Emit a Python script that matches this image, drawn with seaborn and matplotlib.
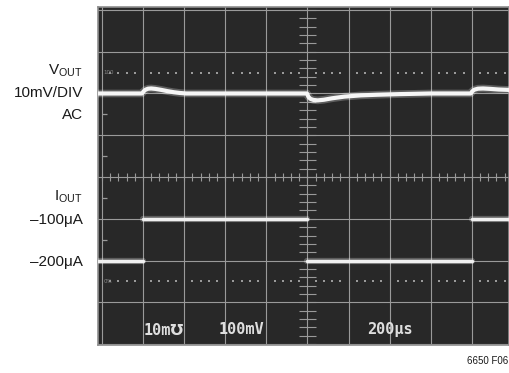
import numpy as np
import pandas as pd
import matplotlib
matplotlib.use("Agg")
import matplotlib.pyplot as plt
import seaborn as sns

# time base 200us/div, VOUT 10mV/div (AC, offset +2 div), IOUT 100uA/div
t_vout = [-20, 195, 203, 212, 225, 240, 260, 290, 320, 350, 380, 410, 600,
          998, 1005, 1015, 1030, 1050, 1080, 1120, 1180, 1260, 1340, 1450, 1600,
          1795, 1802, 1812, 1830, 1855, 1890, 1930, 1985]
v_out_mv = [0, 0, 0.5, 0.9, 1.15, 1.2, 1.1, 0.85, 0.55, 0.3, 0.12, 0, 0,
            0, -0.8, -1.3, -1.55, -1.65, -1.5, -1.15, -0.75, -0.45, -0.3, -0.15, 0,
            0, 0.5, 0.9, 1.15, 1.2, 1.1, 0.95, 0.85]

t_iout = [-20, 200, 1000, 1800, 1985]
i_out_ua = [-200, -100, -200, -100]

vout = pd.DataFrame({"t": t_vout, "div": [2 + v / 10 for v in v_out_mv]})
# current levels as separate segments (scope shows no vertical edges)
seg_rows = []
for k, lvl in enumerate(i_out_ua):
    seg_rows.append({"t": t_iout[k], "div": lvl / 100, "seg": k})
    seg_rows.append({"t": t_iout[k + 1], "div": lvl / 100, "seg": k})
iout = pd.DataFrame(seg_rows)

sns.set_style("dark")
plt.rcParams["font.family"] = ["Liberation Sans", "DejaVu Sans"]

fig = plt.figure(figsize=(5.09, 3.73), dpi=100)
fig.patch.set_facecolor("white")
ax = fig.add_axes([98 / 509, (373 - 345) / 373, (509 - 98) / 509, (345 - 7) / 373])
ax.set_facecolor("#282828")

# graticule
grid_c = "#9a9a9a"
for x in range(0, 2001, 200):
    ax.axvline(x, color=grid_c, lw=0.8, zorder=1)
for y in range(-4, 5):
    ax.axhline(y, color=grid_c, lw=0.8, zorder=1)
minor_x = np.arange(0, 2000, 40)
minor_y = np.arange(-4, 4.01, 0.2)
ax.vlines(minor_x, -0.09, 0.09, color=grid_c, lw=0.8, zorder=1)
ax.hlines(minor_y, 960, 1040, color=grid_c, lw=0.8, zorder=1)
dots_x = [x for x in minor_x if x % 200]
for y in (2.5, -2.5):
    ax.plot(dots_x, [y] * len(dots_x), ls="none", marker="s", ms=1.5,
            mew=0, color="#9a9a9a", zorder=1)
ax.hlines([1.5, 0.5, -0.5, -1.5], 0, 25, color=grid_c, lw=0.9, zorder=1)
ax.text(8, 2.5, "100", color="#8a8a8a", fontsize=4, va="center", family="DejaVu Sans")
ax.text(8, -2.5, "0%", color="#8a8a8a", fontsize=4, va="center", family="DejaVu Sans")

# traces with a little glow
sns.lineplot(data=vout, x="t", y="div", ax=ax, color="white", lw=5.5,
             alpha=0.25, sort=False, zorder=3)
sns.lineplot(data=vout, x="t", y="div", ax=ax, color="#f6f6f6", lw=3.0,
             sort=False, zorder=4)
sns.lineplot(data=iout, x="t", y="div", units="seg", estimator=None, ax=ax,
             color="white", lw=4.5, alpha=0.25, sort=False, zorder=3)
sns.lineplot(data=iout, x="t", y="div", units="seg", estimator=None, ax=ax,
             color="#f0f0f0", lw=2.5, sort=False, zorder=4)

ax.set_xlim(-19, 1981)
ax.set_ylim(-4.02, 4.07)
ax.set_xticks([])
ax.set_yticks([])
ax.set_xlabel("")
ax.set_ylabel("")
for s in ax.spines.values():
    s.set_visible(True)
    s.set_color("#8f8f8f")
    s.set_linewidth(1.2)

# scope readouts
scope_txt = dict(color="#dedede", fontsize=11, fontweight="bold",
                 family=["DejaVu Sans Mono", "DejaVu Sans", "Noto Sans",
                         "Noto Sans CJK JP"],
                 va="center", ha="center")
ax.text(300, -3.66, "10m\u2127", **scope_txt)
ax.text(680, -3.66, "100mV", **scope_txt)
ax.text(1400, -3.66, "200\u03bcs", **scope_txt)

# channel labels
lab = dict(fontsize=11, ha="right", va="center", color="#1a1a1a")
xr = 83 / 509
def ypix(p):
    return 1 - p / 373
fig.text(xr, ypix(71), r"V$_{\mathregular{OUT}}$", **lab)
fig.text(xr, ypix(93), "10mV/DIV", **lab)
fig.text(xr, ypix(115), "AC", **lab)
fig.text(xr, ypix(197), r"I$_{\mathregular{OUT}}$", **lab)
fig.text(xr, ypix(220), "\u2013100\u03bcA", **lab)
fig.text(xr, ypix(262), "\u2013200\u03bcA", **lab)
fig.text(508 / 509, ypix(361), "6650 F06", fontsize=7, ha="right", va="center",
         color="#1a1a1a")

fig.savefig("out.png", dpi=100)
